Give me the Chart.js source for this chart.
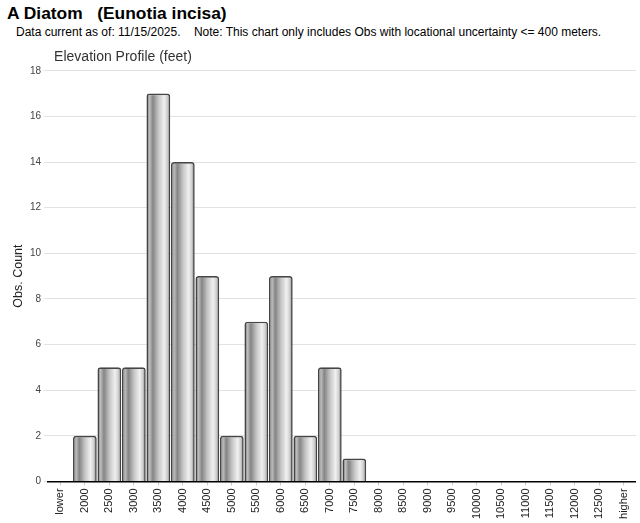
<!DOCTYPE html>
<html lang="en">
<head>
    <meta charset="UTF-8">
    <title>Elevation Profile</title>
    <script src="https://cdn.jsdelivr.net/npm/chart.js"></script>
    <style>
        body {
            margin: 0;
            background: white;
            font-family: "Liberation Sans", Arial, sans-serif;
        }
        .wrap {
            position: relative;
            width: 640px;
            height: 523px;
        }
        .head {
            position: absolute;
            left: 7px;
            top: 3px;
            font-size: 17.4px;
            font-weight: bold;
            white-space: pre;
            color: #000;
        }
        .note {
            position: absolute;
            left: 16px;
            top: 25px;
            font-size: 12px;
            white-space: pre;
            color: #000;
        }
        .chart-box {
            position: absolute;
            left: 0;
            top: 40px;
            width: 640px;
            height: 483px;
        }
    </style>
</head>
<body>
    <div class="wrap">
        <div class="head">A Diatom   (Eunotia incisa)</div>
        <div class="note">Data current as of: 11/15/2025.    Note: This chart only includes Obs with locational uncertainty &lt;= 400 meters.</div>
        <div class="chart-box"><canvas id="chart"></canvas></div>
    </div>

    <script>
        // elevation bins (feet)
        const bins = ['lower', '2000', '2500', '3000', '3500', '4000', '4500', '5000', '5500', '6000',
            '6500', '7000', '7500', '8000', '8500', '9000', '9500', '10000', '10500', '11000',
            '11500', '12000', '12500', 'higher'];
        const obsCount = [0, 2, 5, 5, 17, 14, 9, 2, 7, 9, 2, 5, 1, 0, 0, 0, 0, 0, 0, 0, 0, 0, 0, 0];
        const yTicks = [0, 2, 4, 6, 8, 10, 12, 14, 16, 18];

        const catPct = 0.97;

        // metallic cylinder look, one gradient per bar
        function barFill(ctx) {
            const chart = ctx.chart;
            if (!chart.chartArea || ctx.dataIndex === undefined) return '#bbb';
            const xs = chart.scales.x;
            const cx = xs.getPixelForValue(ctx.dataIndex);
            const half = xs.width / bins.length * catPct / 2;
            const g = chart.ctx.createLinearGradient(cx - half, 0, cx + half, 0);
            g.addColorStop(0, '#5a5a5a');
            g.addColorStop(0.13, '#bdbdbd');
            g.addColorStop(0.27, '#858585');
            g.addColorStop(0.5, '#c4c4c4');
            g.addColorStop(0.74, '#f0f0f0');
            g.addColorStop(0.88, '#cfcfcf');
            g.addColorStop(1, '#6a6a6a');
            return g;
        }

        // nudge the chart title a little right of the plot edge
        const titleShift = {
            id: 'titleShift',
            afterLayout(chart) {
                const t = chart.titleBlock;
                if (t) { t.left += 6; t.right += 6; }
            }
        };

        new Chart(document.getElementById('chart'), {
            type: 'bar',
            data: {
                labels: bins,
                datasets: [{
                    data: obsCount,
                    backgroundColor: barFill,
                    borderColor: '#454545',
                    borderWidth: 1.6,
                    borderRadius: 3,
                    barPercentage: 1,
                    categoryPercentage: catPct
                }]
            },
            plugins: [titleShift],
            options: {
                responsive: true,
                maintainAspectRatio: false,
                animation: false,
                layout: { padding: { left: 6, right: 4, top: 0, bottom: 1 } },
                plugins: {
                    legend: { display: false },
                    tooltip: { enabled: false },
                    title: {
                        display: true,
                        text: 'Elevation Profile (feet)',
                        align: 'start',
                        fullSize: false,
                        color: '#333',
                        font: { family: '"Liberation Sans", Arial', size: 14, weight: 'normal' },
                        padding: { top: 9, bottom: 5 }
                    }
                },
                scales: {
                    x: {
                        grid: {
                            offset: false,
                            drawOnChartArea: false,
                            drawTicks: true,
                            tickLength: 4,
                            color: '#c8c8c8'
                        },
                        border: { display: true, color: '#000', width: 1.5 },
                        ticks: {
                            autoSkip: false,
                            maxRotation: 90,
                            minRotation: 90,
                            padding: 3,
                            color: '#222',
                            font: { family: '"Liberation Sans", Arial', size: 11 }
                        }
                    },
                    y: {
                        min: 0,
                        max: 18,
                        afterBuildTicks: (axis) => {
                            axis.ticks = yTicks.map(v => ({ value: v }));
                        },
                        grid: {
                            color: '#e2e2e2',
                            tickLength: 4
                        },
                        border: { display: false },
                        ticks: {
                            padding: 3,
                            color: '#444',
                            font: { family: '"Liberation Sans", Arial', size: 10 }
                        },
                        title: {
                            display: true,
                            text: 'Obs. Count',
                            color: '#222',
                            font: { family: '"Liberation Sans", Arial', size: 12.5 },
                            padding: { top: 5, bottom: 1 }
                        }
                    }
                }
            }
        });
    </script>
</body>
</html>
